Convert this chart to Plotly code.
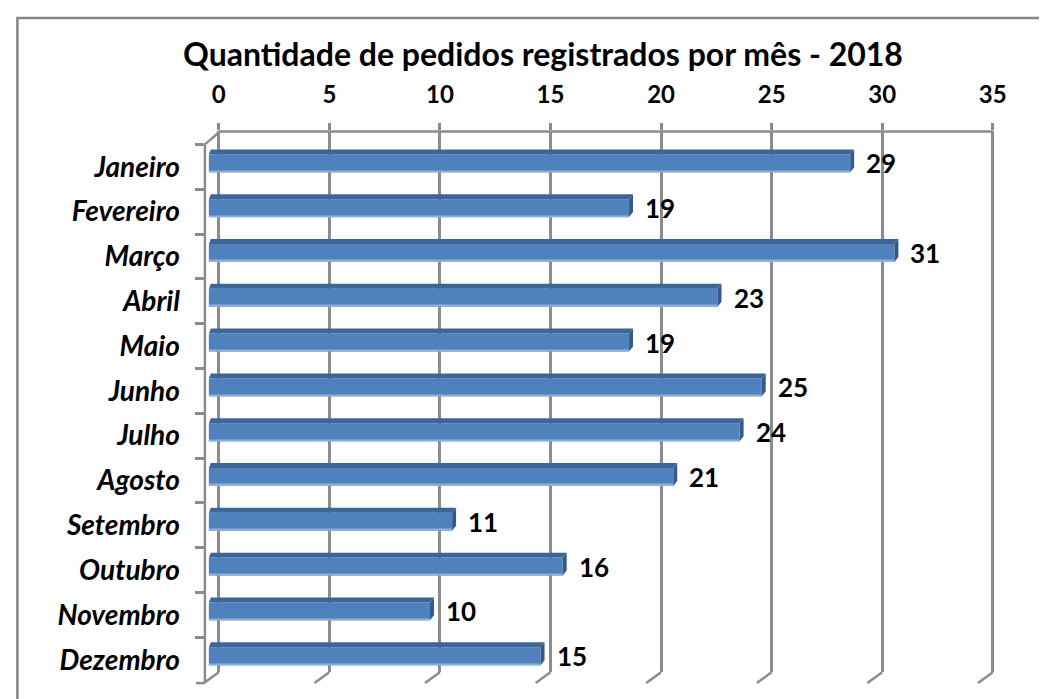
import plotly.graph_objects as go

# ---- data ----
months = ["Janeiro", "Fevereiro", "Março", "Abril", "Maio", "Junho", "Julho",
          "Agosto", "Setembro", "Outubro", "Novembro", "Dezembro"]
pedidos = [29, 19, 31, 23, 19, 25, 24, 21, 11, 16, 10, 15]
tick_vals = [0, 5, 10, 15, 20, 25, 30, 35]
title_text = "Quantidade de pedidos registrados por mês - 2018"

# ---- geometry (pixels of the 1047x699 page) ----
W, H = 1047, 699
X0_FRONT, X0_BACK, PPU = 203.0, 213.0, 22.35
L, R = 199.0, 998.0
T, B = 124.0, 667.0
CAT_TOP, CAT_H = 137.0, 45.0
GRID = "#8C8C8C"
FONT = "Lato"

def px(p):
    return p / W

def py(p):
    return 1 - p / H

x_range = [(L - X0_FRONT) / PPU, (R - X0_FRONT) / PPU]
x2_range = [(L - X0_BACK) / PPU, (R - X0_BACK) / PPU]
y_range = [(B - CAT_TOP) / CAT_H - 0.5, (T - CAT_TOP) / CAT_H - 0.5]

ypos = list(range(len(months)))
OFF, WID = -0.278, 0.40
dx_top = 4.0 / PPU
dx_left = 2.0 / PPU
dy_top = 5.0 / CAT_H

fig = go.Figure()

# front face of bars
fig.add_trace(go.Bar(x=pedidos, y=ypos, orientation="h", width=WID, offset=OFF,
                     marker=dict(color="#4F81BD", line=dict(width=0)),
                     hoverinfo="skip", showlegend=False))
# light bottom edge
fig.add_trace(go.Bar(x=pedidos, y=ypos, orientation="h", width=0.035, offset=OFF + WID - 0.035,
                     marker=dict(color="#8FB0DA", line=dict(width=0)),
                     hoverinfo="skip", showlegend=False))

# top faces and side faces (computed from values)
tx, ty, sx, sy = [], [], [], []
for i, v in enumerate(pedidos):
    yt = i + OFF
    yb = i + OFF + WID
    tx += [0, v, v + dx_top, dx_left, 0, None]
    ty += [yt, yt, yt - dy_top, yt - dy_top, yt, None]
    sx += [v, v + dx_top, v + dx_top, v, v, None]
    sy += [yt, yt - dy_top, yb - dy_top, yb, yt, None]
fig.add_trace(go.Scatter(x=tx, y=ty, mode="none", fill="toself", fillcolor="#3D6598",
                         hoverinfo="skip", showlegend=False))
fig.add_trace(go.Scatter(x=sx, y=sy, mode="none", fill="toself", fillcolor="#35598A",
                         hoverinfo="skip", showlegend=False))

# top axis carrying the back-wall gridlines
fig.add_trace(go.Scatter(x=[tick_vals[0]], y=[0], xaxis="x2", mode="none",
                         hoverinfo="skip", showlegend=False))

annotations = []
for i, v in enumerate(pedidos):
    annotations.append(dict(x=v, y=i + OFF + WID / 2, xref="x", yref="y", text=str(v),
                            showarrow=False, xanchor="left", yanchor="middle", xshift=14,
                            font=dict(family=FONT, size=26, color="black", weight="bold")))
annotations.append(dict(x=px(541), y=py(46), xref="paper", yref="paper", text=title_text,
                        showarrow=False, xanchor="center", yanchor="middle",
                        font=dict(family=FONT, size=32, color="black", weight="bold")))

shapes = []
line = dict(color=GRID, width=2.5)
# outer chart border (right/bottom out of view)
shapes.append(dict(type="rect", xref="paper", yref="paper", x0=px(9.5), y0=py(10),
                   x1=1.05, y1=-0.05, line=dict(color="#868686", width=2.5)))
# back wall top edge
shapes.append(dict(type="line", xref="paper", yref="paper",
                   x0=px(X0_BACK), y0=py(T), x1=px(X0_BACK + 35 * PPU), y1=py(T), line=line))
# left wall top diagonal
shapes.append(dict(type="line", xref="paper", yref="paper",
                   x0=px(X0_BACK), y0=py(T + 1), x1=px(L), y1=py(CAT_TOP), line=line))
# left front edge
shapes.append(dict(type="line", xref="paper", yref="paper",
                   x0=px(L), y0=py(CAT_TOP), x1=px(L), y1=py(CAT_TOP + 12 * CAT_H + 1), line=line))
# bottom boundary tick
shapes.append(dict(type="line", xref="paper", yref="paper",
                   x0=px(L - 9), y0=py(CAT_TOP + 12 * CAT_H + 1), x1=px(L), y1=py(CAT_TOP + 12 * CAT_H + 1),
                   line=line))
# floor diagonals of the gridlines
for v in tick_vals:
    xb = X0_BACK + v * PPU
    shapes.append(dict(type="line", xref="paper", yref="paper",
                       x0=px(xb), y0=py(B), x1=px(xb - 15), y1=py(B + 11), line=line))

fig.update_layout(
    width=W, height=H,
    margin=dict(l=0, r=0, t=0, b=0),
    paper_bgcolor="white", plot_bgcolor="rgba(0,0,0,0)",
    barmode="overlay",
    xaxis=dict(domain=[px(L), px(R)], range=x_range, showgrid=False, zeroline=False,
               showticklabels=False, ticks="", showline=False, fixedrange=True),
    xaxis2=dict(overlaying="x", side="top", anchor="y", range=x2_range,
                tickvals=tick_vals, showgrid=True, gridcolor=GRID, gridwidth=2.5,
                zeroline=False, showline=False, ticks="outside", ticklen=7,
                tickwidth=2.5, tickcolor=GRID, ticklabelstandoff=11,
                tickfont=dict(family=FONT, size=24, color="black", weight="bold")),
    yaxis=dict(domain=[py(B), py(T)], range=y_range, tickvals=ypos, ticktext=months,
               showgrid=False, zeroline=False, showline=False, ticks="",
               ticklabelstandoff=24,
               tickfont=dict(family=FONT, size=28, color="black", weight="bold", style="italic"),
               minor=dict(tickvals=[i - 0.5 for i in range(len(months) + 1)], ticks="outside",
                          ticklen=9, tickwidth=2.5, tickcolor=GRID, showgrid=False)),
    shapes=shapes,
    annotations=annotations,
)

fig.write_html("out.html")
